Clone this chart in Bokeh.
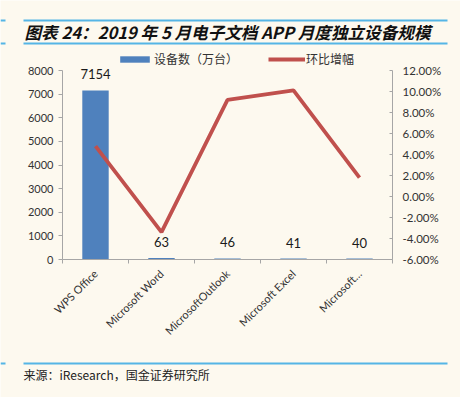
import math
import numpy as np
from bokeh.plotting import figure
from bokeh.models import (Range1d, LinearAxis, FixedTicker, NumeralTickFormatter,
                          Legend, LegendItem, ColumnDataSource)
from bokeh.core.properties import value
from bokeh.embed import file_html
from bokeh.resources import INLINE

# ---- data ----
categories = ["WPS Office", "Microsoft Word", "MicrosoftOutlook", "Microsoft Excel", "Microsoft…"]
devices = [7154, 63, 46, 41, 40]                 # 设备数（万台）
growth = [0.048, -0.034, 0.092, 0.101, 0.018]     # 环比增幅
left_ticks = [0, 1000, 2000, 3000, 4000, 5000, 6000, 7000, 8000]
right_ticks = [-0.06, -0.04, -0.02, 0.0, 0.02, 0.04, 0.06, 0.08, 0.10, 0.12]

title_text = "图表 24：2019 年 5 月电子文档 APP 月度独立设备规模"
source_text = "来源：iResearch，国金证券研究所"
legend_labels = ["设备数（万台）", "环比增幅"]

# ---- layout / style (pixels) ----
BG = "#fdf9ef"
BLUE = "#4f81bd"
RED = "#c0504d"
LINE_BLUE = "#55b5e6"
AX = "#a6a6a6"
TXT = "#333333"
W, H = 460, 397
CL, CR, CT, CB = 62.0, 392.0, 70.0, 259.0      # plot area edges on the canvas

n = len(categories)
ymax = left_ticks[-1]
pmin, pmax = right_ticks[0], right_ticks[-1]
ux = (CR - CL) / n                # px per category
uy = (CB - CT) / ymax             # px per device unit
up = (CB - CT) / (pmax - pmin)    # px per pct unit

p = figure(width=W, height=H,
           x_range=Range1d(-CL / ux, (W - CL) / ux),
           y_range=Range1d(-(H - CB) / uy, CB / uy),
           x_axis_type=None, y_axis_type=None,
           output_backend="svg", toolbar_location=None, min_border=0)
p.background_fill_color = BG
p.border_fill_color = BG
p.outline_line_color = None
p.extra_y_ranges = {"pct": Range1d(pmin - (H - CB) / up, pmin + CB / up),
                    "py": Range1d(H, 0)}
p.extra_x_ranges = {"px": Range1d(0, W)}

centers = list(np.arange(n) + 0.5)
src = ColumnDataSource(dict(x=centers, dev=devices, g=growth, lab=[str(v) for v in devices]))
bars = p.vbar(x="x", top="dev", bottom=0, width=0.4, source=src, fill_color=BLUE, line_color=None)
ln = p.line(x="x", y="g", source=src, y_range_name="pct", line_color=RED, line_width=3.8)
p.text(x="x", y="dev", text="lab", source=src, y_offset=-16, text_align="center",
       text_baseline="middle", text_font=value("Lato"), text_font_size="13px", text_color="#1a1a1a")

# x axis (fixed at y = 0)
xa = LinearAxis(fixed_location=0, bounds=(0, n),
                ticker=FixedTicker(ticks=centers, minor_ticks=list(range(n + 1))))
xa.major_label_overrides = {c: name for c, name in zip(centers, categories)}
xa.major_label_orientation = math.pi / 4
xa.major_tick_line_color = None
xa.minor_tick_line_color = AX
xa.minor_tick_in = 0
xa.minor_tick_out = 4
xa.axis_line_color = AX
xa.major_label_text_font = "Lato"
xa.major_label_text_font_size = "11px"
xa.major_label_text_color = TXT
xa.major_label_standoff = 6
p.add_layout(xa, "below")

# left axis (fixed at x = 0)
ya = LinearAxis(fixed_location=0, bounds=(0, ymax), ticker=FixedTicker(ticks=left_ticks))
ya.axis_line_color = AX
ya.major_tick_line_color = AX
ya.major_tick_in = 0
ya.major_tick_out = 4
ya.minor_tick_line_color = None
ya.major_label_text_font = "Lato"
ya.major_label_text_font_size = "11px"
ya.major_label_text_color = TXT
ya.major_label_standoff = 5
p.add_layout(ya, "left")

# right axis (fixed at x = n)
ra = LinearAxis(y_range_name="pct", fixed_location=n, bounds=(pmin, pmax),
                ticker=FixedTicker(ticks=right_ticks),
                formatter=NumeralTickFormatter(format="0.00%"))
ra.axis_line_color = AX
ra.major_tick_line_color = AX
ra.major_tick_in = 3
ra.major_tick_out = 0
ra.minor_tick_line_color = None
ra.major_label_text_font = "Lato"
ra.major_label_text_font_size = "11.5px"
ra.major_label_text_color = TXT
ra.major_label_standoff = 10
p.add_layout(ra, "right")

# legend
legend = Legend(items=[LegendItem(label=legend_labels[0], renderers=[bars]),
                       LegendItem(label=legend_labels[1], renderers=[ln])],
                orientation="horizontal", location=(116, H - 67),
                background_fill_alpha=0, border_line_alpha=0, padding=0, margin=0,
                spacing=30, glyph_width=37, glyph_height=8, label_standoff=1,
                label_text_font="Noto Sans CJK SC", label_text_font_size="12px",
                label_text_color=TXT, label_height=8)
p.add_layout(legend)

# decorations in canvas pixels
p.segment(x0=[23, 0, 23, 0, 23, 0], x1=[447, 5, 447, 5, 447, 5],
          y0=[20, 20, 43, 43, 363, 363], y1=[20, 20, 43, 43, 363, 363],
          x_range_name="px", y_range_name="py", line_color=LINE_BLUE, line_width=2)
p.text(x=[24], y=[31], text=[title_text], x_range_name="px", y_range_name="py",
       text_font=value("Noto Sans CJK SC"), text_font_size="16.6px",
       text_font_style="bold italic", text_baseline="middle", text_color="#111111")
p.text(x=[23], y=[374], text=[source_text], x_range_name="px", y_range_name="py",
       text_font=value("Noto Sans CJK SC"), text_font_size="12px",
       text_baseline="middle", text_color="#222222")

open("out.html", "w").write(file_html(p, INLINE))
